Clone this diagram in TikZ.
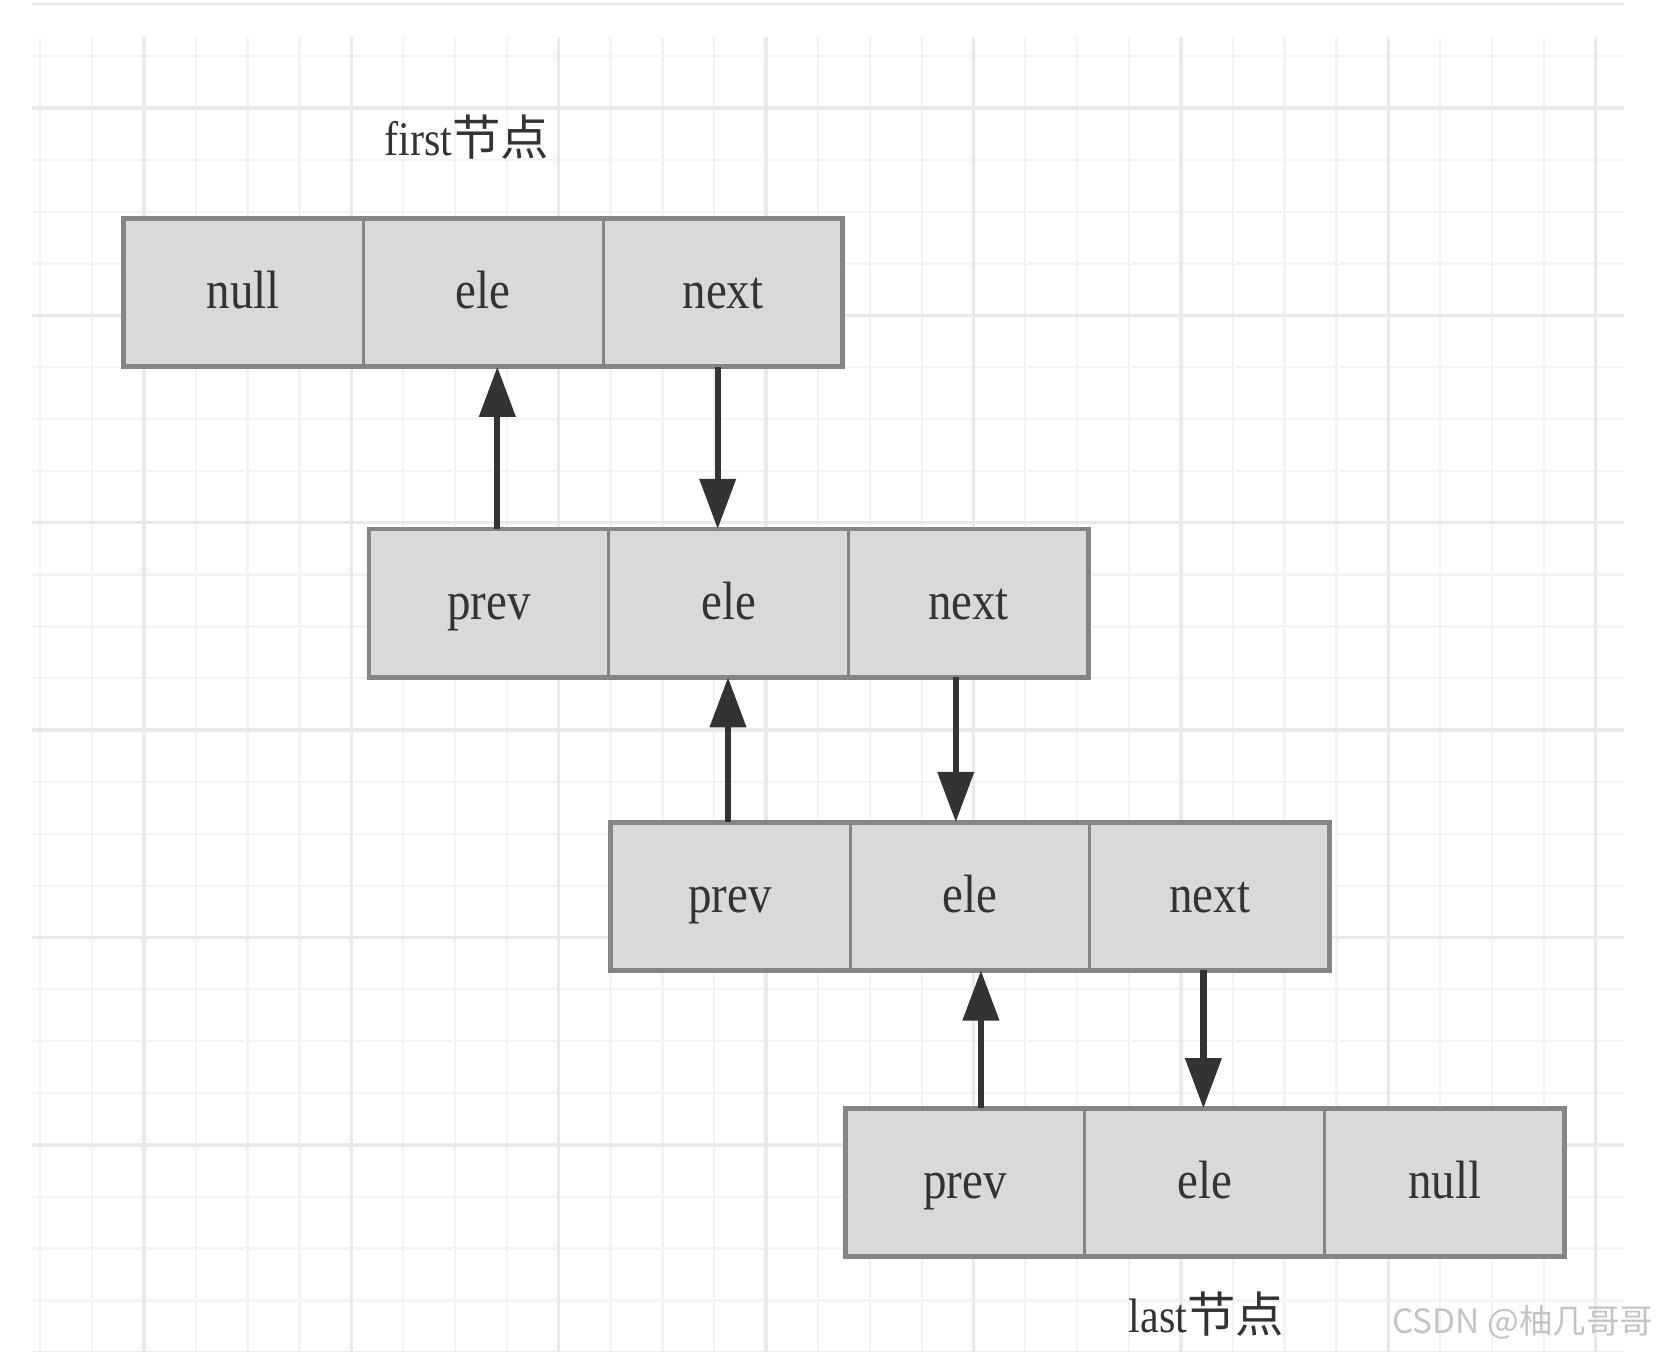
\documentclass[tikz,border=0pt]{standalone}
\usepackage{fontspec}
\setmainfont[FakeStretch=0.87]{Liberation Serif}
\newfontfamily\cjk{Noto Sans CJK SC}
\usetikzlibrary{positioning,arrows.meta}
\definecolor{cellgray}{HTML}{D9D9D9}
\definecolor{edgegray}{HTML}{858585}
\definecolor{ptrgray}{HTML}{333333}
\definecolor{textgray}{HTML}{333333}
\definecolor{gridmajor}{HTML}{EAEAEA}
\definecolor{gridminor}{HTML}{F3F3F3}
\definecolor{markgray}{HTML}{C4C4C4}
\begin{document}
\begin{tikzpicture}[x=0.01cm, y=-0.01cm,
    cell/.style={rectangle, draw=edgegray, line width=0.8pt, fill=cellgray,
        minimum width=2.265cm, minimum height=1.40cm, inner sep=0pt, outer sep=0pt,
        text height=11pt, text depth=2.2pt,
        text=textgray, font=\fontsize{14.5}{16}\selectfont},
    frame/.style={draw=edgegray, line width=1.3pt},
    ptr/.style={draw=ptrgray, line width=1.7pt, -{Triangle[width=9.5pt, length=13.5pt]}},
    tag/.style={text=textgray, inner sep=0pt, font=\fontsize{13}{15}\selectfont}]

    \fill[white] (0,0) rectangle (1565,1277.7);
    \useasboundingbox (0,0) rectangle (1565,1277.7);

    % grid
    \draw[gridmajor, line width=0.6pt] (30,4) -- (1535,4);
    \foreach \gx in {38,87,...,1508}
        \draw[gridminor, line width=0.6pt] (\gx,35) -- (\gx,1278);
    \foreach \gy in {53,102,...,1278}
        \draw[gridminor, line width=0.6pt] (30,\gy) -- (1535,\gy);
    \foreach \gx in {136,332,...,1508}
        \draw[gridmajor, line width=0.9pt] (\gx,35) -- (\gx,1278);
    \foreach \gy in {102,298,...,1278}
        \draw[gridmajor, line width=0.9pt] (30,\gy) -- (1535,\gy);

    % first node
    \node[cell] (null1) at (230,276.5) {null};
    \node[cell, right=0pt of null1] (ele1) {ele};
    \node[cell, right=0pt of ele1] (next1) {next};
    \draw[frame] (null1.north west) rectangle (next1.south east);

    \node[cell] (prev2) at (462,570) {prev};
    \node[cell, right=0pt of prev2] (ele2) {ele};
    \node[cell, right=0pt of ele2] (next2) {next};
    \draw[frame] (prev2.north west) rectangle (next2.south east);

    \node[cell] (prev3) at (690,847) {prev};
    \node[cell, right=0pt of prev3] (ele3) {ele};
    \node[cell, right=0pt of ele3] (next3) {next};
    \draw[frame] (prev3.north west) rectangle (next3.south east);

    % last node
    \node[cell] (prev4) at (912,1117.5) {prev};
    \node[cell, right=0pt of prev4] (ele4) {ele};
    \node[cell, right=0pt of ele4] (null4) {null};
    \draw[frame] (prev4.north west) rectangle (null4.south east);

    \draw[ptr] ([xshift=0.08cm]prev2.north) -- ([xshift=0.08cm]prev2.north |- ele1.south);
    \draw[ptr] ([xshift=-0.05cm]next1.south) -- ([xshift=-0.05cm]next1.south |- ele2.north);
    \draw[ptr] ([xshift=-0.02cm]prev3.north) -- ([xshift=-0.02cm]prev3.north |- ele2.south);
    \draw[ptr] ([xshift=-0.12cm]next2.south) -- ([xshift=-0.12cm]next2.south |- ele3.north);
    \draw[ptr] ([xshift=0.15cm]prev4.north) -- ([xshift=0.15cm]prev4.north |- ele3.south);
    \draw[ptr] ([xshift=-0.06cm]next3.south) -- ([xshift=-0.06cm]next3.south |- ele4.north);

    \node[tag] (firsttag) at (441,130) {first{\cjk 节点}};
    \node[tag] (lasttag) at (1140,1242) {last{\cjk 节点}};
    \node[text=markgray, inner sep=0pt, anchor=east, font=\cjk\fontsize{9}{11}\selectfont]
        (mark) at (1563,1250) {CSDN @柚几哥哥};

\end{tikzpicture}
\end{document}
